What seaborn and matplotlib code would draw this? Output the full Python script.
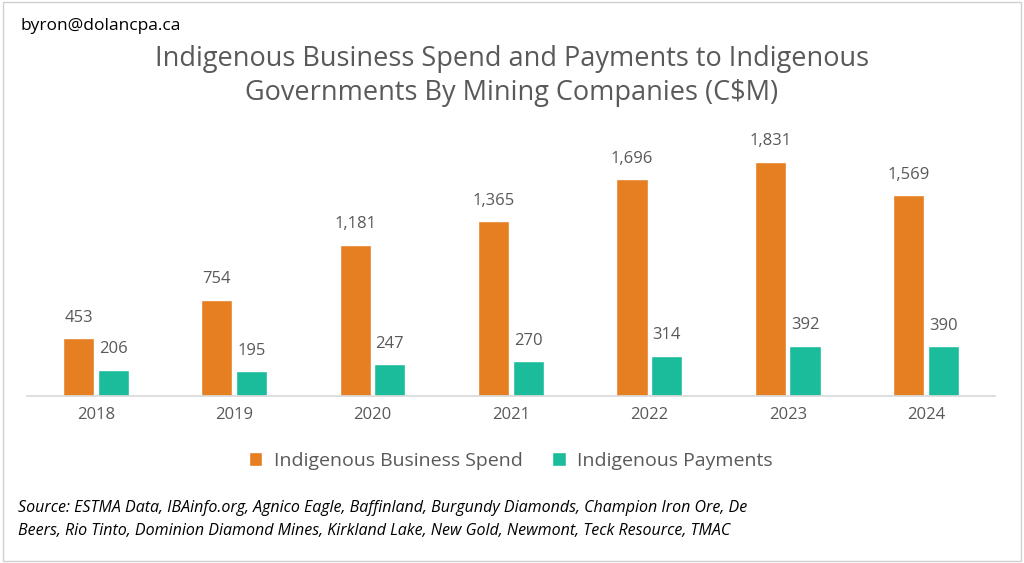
import matplotlib
matplotlib.use("Agg")
from matplotlib import pyplot as plt
from matplotlib.patches import Rectangle
import seaborn as sns
import pandas as pd

years = ["2018", "2019", "2020", "2021", "2022", "2023", "2024"]
business_spend = [453, 754, 1181, 1365, 1696, 1831, 1569]
payments = [206, 195, 247, 270, 314, 392, 390]

df = pd.DataFrame({
    "year": years * 2,
    "value": business_spend + payments,
    "series": ["Indigenous Business Spend"] * 7 + ["Indigenous Payments"] * 7,
})

sns.set_theme(style="white")
plt.rcParams["font.family"] = ["Open Sans", "DejaVu Sans"]
grey = "#595959"

fig = plt.figure(figsize=(10.24, 5.63), dpi=100)
ax = fig.add_axes([0.026, 0.2966, 0.946, 0.50])
sns.barplot(data=df, x="year", y="value", hue="series", saturation=1,
            palette=["#E67E22", "#1ABC9C"], width=0.5, gap=0.1, ax=ax, legend=True)

for cont in ax.containers:
    ax.bar_label(cont, labels=[f"{v:,.0f}" for v in cont.datavalues],
                 padding=9, fontsize=12, color=grey)

ax.set_xlim(-0.5, 6.5)
ax.set_ylim(0, 2200)
ax.set_xlabel("")
ax.set_ylabel("")
ax.set_yticks([])
for s in ["top", "right", "left"]:
    ax.spines[s].set_visible(False)
ax.spines["bottom"].set_color("#D9D9D9")
ax.tick_params(axis="x", labelsize=12, colors=grey, length=0, pad=8)

ax.legend(loc="upper center", bbox_to_anchor=(0.5, -0.135), ncol=2, frameon=False,
          fontsize=14, labelcolor=grey, handlelength=0.7, handleheight=0.7,
          columnspacing=1.5, handletextpad=0.6)

fig.text(0.5, 0.865, "Indigenous Business Spend and Payments to Indigenous\n"
         "Governments By Mining Companies (C$M)", ha="center", va="center",
         fontsize=19.5, color=grey, linespacing=1.25)
fig.text(0.02, 0.953, "byron@dolancpa.ca", fontsize=12.5, color="black", va="center")
fig.text(0.018, 0.077, "Source: ESTMA Data, IBAinfo.org, Agnico Eagle, Baffinland, Burgundy Diamonds, "
         "Champion Iron Ore, De\nBeers, Rio Tinto, Dominion Diamond Mines, Kirkland Lake, New Gold, "
         "Newmont, Teck Resource, TMAC", fontsize=11.5, style="italic", color="black",
         va="center", linespacing=1.55)

fig.patches.append(Rectangle((0.003, 0.003), 0.994, 0.994, transform=fig.transFigure,
                             fill=False, edgecolor="#D0D0D0", linewidth=1))

fig.savefig("out.png", dpi=100)
